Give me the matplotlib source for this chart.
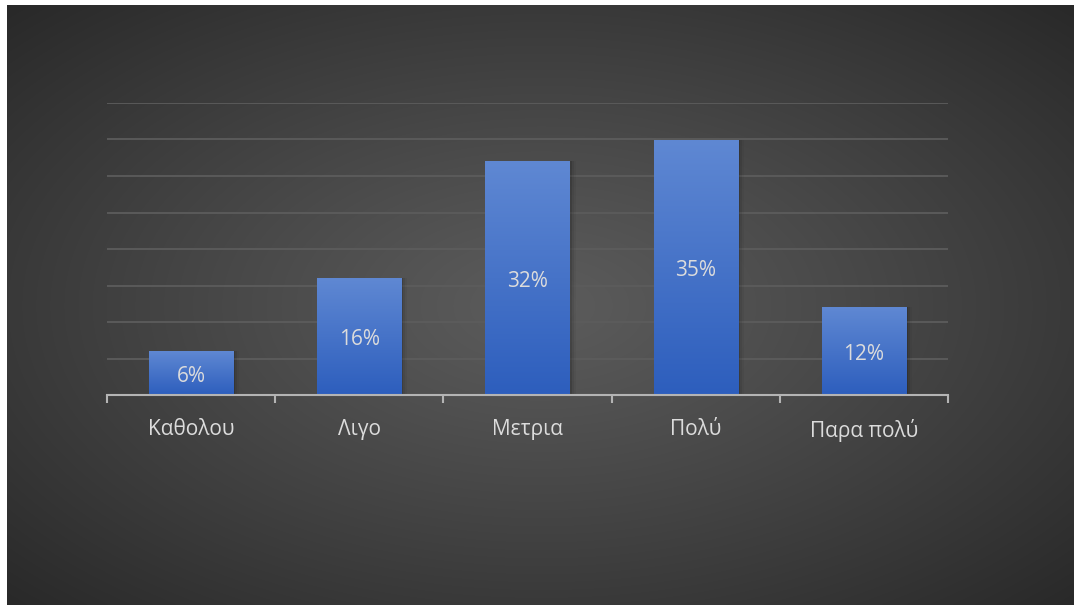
import numpy as np
import matplotlib.pyplot as plt
from matplotlib.colors import LinearSegmentedColormap

# survey answers and their shares
categories = ['Καθολου', 'Λιγο', 'Μετρια', 'Πολύ', 'Παρα πολύ']
shares = [0.06, 0.16, 0.32, 0.35, 0.12]
labels = ['6%', '16%', '32%', '35%', '12%']

plt.rcParams['font.family'] = ['Open Sans', 'DejaVu Sans']
text_color = '#dcdcdc'

fig = plt.figure(figsize=(10.74, 6.05), dpi=100)
fig.patch.set_facecolor('white')

# radial dark background
bg = fig.add_axes([7 / 1074, 0, 1067 / 1074, 600 / 605])
bg.set_axis_off()
h, w = 300, 534
yy, xx = np.mgrid[0:h, 0:w]
r = np.sqrt(((xx - w * 0.5) / (w * 0.5)) ** 2 + ((yy - h * 0.5) / (h * 0.5)) ** 2) / np.sqrt(2)
val = 0.36 - 0.2 * np.clip(r, 0, 1) ** 1.1
bg.imshow(np.dstack([val, val, val]), aspect='auto', extent=[0, 1, 0, 1],
          interpolation='bicubic')
bg.set_xlim(0, 1)
bg.set_ylim(0, 1)

ax = fig.add_axes([107 / 1074, 210 / 605, 841 / 1074, 292 / 605])
ax.set_facecolor('none')
x = np.arange(len(categories))
bars = ax.bar(x, shares, width=0.5, color='#4472c4', zorder=3)

# vertical blue gradient inside each bar, plus a soft shadow on the right
grad = LinearSegmentedColormap.from_list('bar', ['#2d5ebd', '#5f88d3'])
for b in bars:
    x0, y0 = b.get_x(), b.get_y()
    bw, bh = b.get_width(), b.get_height()
    for k, a in enumerate([0.12, 0.07, 0.04]):
        ax.bar(x0 + bw / 2 + 0.012 * (k + 1), bh, width=bw, bottom=y0,
               color='black', alpha=a, zorder=2, linewidth=0)
    img = ax.imshow(np.linspace(0, 1, 256).reshape(-1, 1), cmap=grad,
                    extent=[x0, x0 + bw, y0, y0 + bh], origin='lower',
                    aspect='auto', zorder=3)
    img.set_clip_path(b)
    b.set_facecolor('none')

for xi, s, lab in zip(x, shares, labels):
    ax.text(xi, s / 2 - 0.004, lab, ha='center', va='center', color=text_color,
            fontsize=15, zorder=4)

ax.set_xlim(-0.5, len(categories) - 0.5)
ax.set_ylim(0, 0.40)
ax.set_yticks(np.arange(0, 0.401, 0.05))
ax.yaxis.grid(True, color='#5c5c5c', linewidth=1.3, zorder=0)
ax.tick_params(axis='y', left=False, labelleft=False)

for side in ['top', 'right', 'left']:
    ax.spines[side].set_visible(False)
ax.spines['bottom'].set_color('#b4b4b4')
ax.spines['bottom'].set_linewidth(1.5)
ax.spines['bottom'].set_zorder(5)

ax.set_xticks(np.arange(-0.5, len(categories), 1.0))
ax.set_xticklabels([])
ax.tick_params(axis='x', which='major', direction='out', length=6, width=1.5,
               color='#b4b4b4')
ax.set_xticks(x, minor=True)
ax.set_xticklabels(categories, minor=True)
ax.tick_params(axis='x', which='minor', length=0, pad=17, labelsize=15,
               labelcolor=text_color)

fig.savefig('out.png', dpi=100)
